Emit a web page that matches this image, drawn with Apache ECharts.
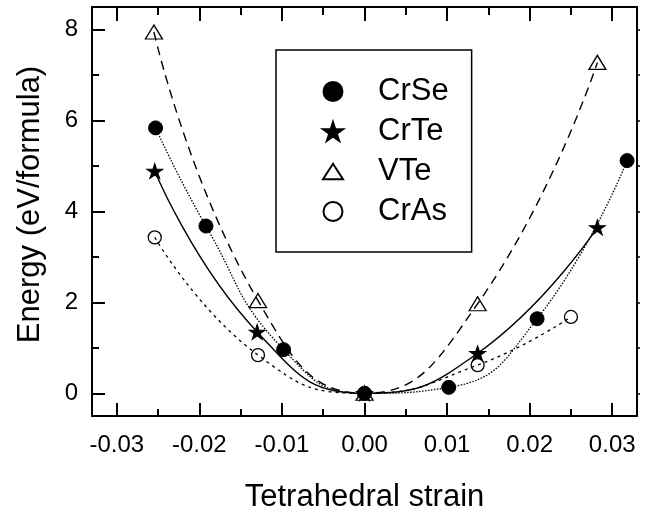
<!DOCTYPE html>
<html>
<head>
<meta charset="utf-8">
<script src="https://cdn.jsdelivr.net/npm/echarts@6/dist/echarts.min.js"></script>
<style>html,body{margin:0;padding:0;background:#fff}#c{width:664px;height:507px}</style>
</head>
<body>
<div id="c"></div>
<script>
// ---- data ----
const crSeX = [-0.0253, -0.0192, -0.0098, 0, 0.0102, 0.0209, 0.0318];
const crSeY = [5.84, 3.68, 0.96, 0, 0.13, 1.64, 5.12];
const crTeX = [-0.0254, -0.0130, 0, 0.0137, 0.0282];
const crTeY = [4.89, 1.35, 0, 0.88, 3.65];
const vTeX = [-0.0255, -0.0129, 0, 0.0137, 0.0282];
const vTeY = [7.95, 2.04, 0, 1.97, 7.28];
const crAsX = [-0.0254, -0.0129, 0, 0.0137, 0.0250];
const crAsY = [3.43, 0.84, 0, 0.62, 1.68];

const seriesNames = ['CrSe', 'CrTe', 'VTe', 'CrAs'];
const xTicks = [-0.03, -0.02, -0.01, 0, 0.01, 0.02, 0.03];
const xMinorTicks = [-0.025, -0.015, -0.005, 0.005, 0.015, 0.025];
const yTicks = [0, 2, 4, 6, 8];
const yMinorTicks = [1, 3, 5, 7];
const yRightTicks = [0, 1, 2, 3, 4, 5, 6, 7, 8];
const xTitle = 'Tetrahedral strain';
const yTitle = 'Energy (eV/formula)';

const FONT = 'Liberation Sans';
const STAR = 'path://M50 0 L61.23 34.55 L97.55 34.55 L68.16 55.9 L79.39 90.45 L50 69.1 L20.61 90.45 L31.84 55.9 L2.45 34.55 L38.77 34.55 Z';
const TRI = 'path://M0 17 L11 0 L22 17 Z';

function pairs(xs, ys) { return xs.map((x, i) => [x, ys[i]]); }

const chart = echarts.init(document.getElementById('c'), null, {renderer: 'canvas'});

function xAx(pos, ticks, len, showLine, showLabel) {
  return {
    type: 'value', min: -0.033, max: 0.033, position: pos,
    splitLine: {show: false},
    axisLine: {show: showLine, onZero: false, lineStyle: {color: '#000', width: 2}},
    axisTick: {show: true, inside: true, length: len, customValues: ticks, lineStyle: {color: '#000', width: 2}},
    axisLabel: {show: showLabel, customValues: ticks, margin: 17, fontFamily: FONT, fontSize: 24, color: '#000',
      formatter: v => v.toFixed(2)}
  };
}
function yAx(pos, ticks, len, inside, showLine, showLabel) {
  return {
    type: 'value', min: -0.5, max: 8.5, position: pos,
    splitLine: {show: false},
    axisLine: {show: showLine, onZero: false, lineStyle: {color: '#000', width: 2}},
    axisTick: {show: true, inside: inside, length: len, customValues: ticks, lineStyle: {color: '#000', width: inside ? 2 : 1.5}},
    axisLabel: {show: showLabel, customValues: ticks, margin: 14, fontFamily: FONT, fontSize: 24, color: '#000',
      formatter: v => String(v)}
  };
}

const xAxes = [
  Object.assign(xAx('bottom', xTicks, 13, true, true), {
    name: xTitle, nameLocation: 'middle', nameGap: 66,
    nameTextStyle: {fontFamily: FONT, fontSize: 31, color: '#000'}
  }),
  xAx('bottom', xMinorTicks, 7, false, false),
  xAx('top', xTicks, 14, true, false),
  xAx('top', xMinorTicks, 8, false, false)
];
const yAxes = [
  Object.assign(yAx('left', yTicks, 13, true, true, true), {
    name: yTitle, nameLocation: 'middle', nameGap: 46,
    nameTextStyle: {fontFamily: FONT, fontSize: 31, color: '#000', padding: [0, 0, 0, 14]}
  }),
  yAx('left', yMinorTicks, 7, true, false, false),
  yAx('right', yRightTicks, 3, false, true, false)
];

function mkSeries(name, xs, ys, symbol, size, filled, dash, width, z) {
  return {
    name: name, type: 'line', xAxisIndex: 0, yAxisIndex: 0,
    data: pairs(xs, ys), smooth: 0.5, z: z,
    symbol: symbol, symbolSize: size, showAllSymbol: true,
    itemStyle: filled ? {color: '#000', borderColor: '#000', borderWidth: 1}
                      : {color: 'rgba(255,255,255,0)', borderColor: '#000', borderWidth: 1.3},
    lineStyle: {color: '#000', width: width, type: dash},
    emphasis: {disabled: true}
  };
}

const option = {
  animation: false,
  backgroundColor: '#fff',
  textStyle: {fontFamily: FONT},
  grid: {left: 92, right: 27, top: 7, bottom: 91, containLabel: false, outerBoundsMode: 'none'},
  xAxis: xAxes,
  yAxis: yAxes,
  legend: {
    orient: 'vertical', left: 276, top: 50,
    padding: [26, 23, 25, 46], itemGap: 9, itemWidth: 20, itemHeight: 19,
    borderColor: '#000', borderWidth: 1.5, backgroundColor: '#fff',
    selectedMode: false,
    textStyle: {fontFamily: FONT, fontSize: 31, color: '#000', lineHeight: 31, padding: [0, 0, 0, 30]},
    data: [
      {name: seriesNames[0], icon: 'circle'},
      {name: seriesNames[1], icon: STAR},
      {name: seriesNames[2], icon: TRI},
      {name: seriesNames[3], icon: 'circle'}
    ]
  },
  series: [
    mkSeries(seriesNames[3], crAsX, crAsY, 'circle', 13, false, [3, 4], 1.3, 2),
    mkSeries(seriesNames[2], vTeX, vTeY, TRI, [17, 14], false, [9, 6], 1.4, 3),
    mkSeries(seriesNames[1], crTeX, crTeY, STAR, [16, 15], true, 'solid', 1.4, 4),
    mkSeries(seriesNames[0], crSeX, crSeY, 'circle', 14, true, [1.5, 1.5], 1.3, 5)
  ]
};
chart.setOption(option);
</script>
</body>
</html>
